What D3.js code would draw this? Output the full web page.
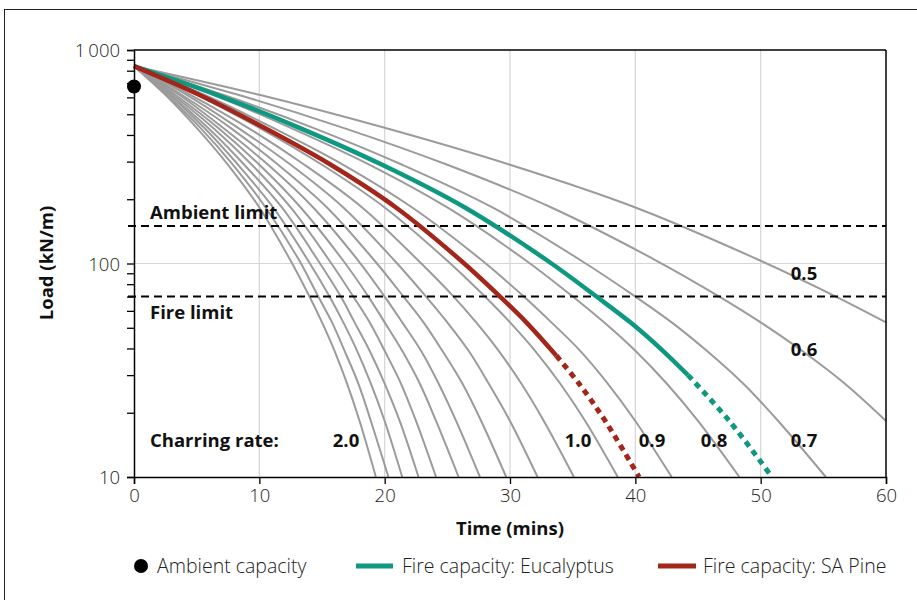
<!DOCTYPE html>
<html>
<head>
<meta charset="utf-8">
<script src="https://cdn.jsdelivr.net/npm/d3@7"></script>
<style>
  body { margin: 0; background: #fff; }
  svg { font-family: "Open Sans", "Noto Sans", sans-serif; }
</style>
</head>
<body>
<svg id="chart" width="917" height="600"></svg>
<script>
// load levels (kN/m) at which the time of each grey curve was read
const loadLevels = [840, 617, 432, 290, 183, 103, 70, 53, 39, 27.4, 18.3, 10];

const charringRates = ['2.0', '1.9', '1.8', '1.7', '1.6', '1.5', '1.4', '1.3', '1.2', '1.1', '1.0', '0.9', '0.8', '0.7', '0.6', '0.5'];

// time (mins) of each curve at the load levels above
const curveTimes = [
  [0, 2.5, 5.0, 7.5, 10.0, 12.5, 14.0, 15.0, 16.0, 17.0, 18.0, 19.3],
  [0, 2.6, 5.3, 7.9, 10.5, 13.2, 14.7, 15.8, 16.8, 17.9, 18.9, 20.3],
  [0, 2.8, 5.6, 8.3, 11.1, 13.9, 15.6, 16.7, 17.8, 18.9, 20.0, 21.4],
  [0, 2.9, 5.9, 8.8, 11.8, 14.7, 16.5, 17.6, 18.8, 20.0, 21.2, 22.7],
  [0, 3.1, 6.3, 9.4, 12.5, 15.6, 17.5, 18.8, 20.0, 21.3, 22.5, 24.1],
  [0, 3.3, 6.7, 10.0, 13.3, 16.7, 18.7, 20.0, 21.4, 22.8, 24.1, 25.9],
  [0, 3.6, 7.1, 10.7, 14.3, 17.9, 20.0, 21.4, 22.9, 24.3, 25.7, 27.6],
  [0, 3.8, 7.7, 11.5, 15.4, 19.2, 21.5, 23.1, 24.6, 26.2, 27.7, 29.7],
  [0, 4.2, 8.3, 12.5, 16.7, 20.8, 23.3, 25.0, 26.7, 28.3, 30.0, 32.2],
  [0, 4.5, 9.1, 13.6, 18.2, 22.7, 25.5, 27.3, 29.1, 30.9, 32.7, 35.1],
  [0, 5.0, 10.0, 15.0, 20.0, 25.0, 28.0, 30.0, 32.0, 34.0, 36.0, 38.6],
  [0, 5.6, 11.1, 16.7, 22.2, 27.8, 31.1, 33.3, 35.6, 37.8, 40.0, 42.9],
  [0, 6.3, 12.5, 18.8, 25.0, 31.3, 35.0, 37.5, 40.0, 42.5, 45.0, 48.3],
  [0, 7.1, 14.3, 21.4, 28.6, 35.7, 40.0, 42.9, 45.7, 48.6, 51.4, 55.2],
  [0, 8.3, 16.7, 25.0, 33.3, 41.7, 46.7, 50.0, 53.3, 56.7, 60.0],
  [0, 10.0, 20.0, 30.0, 40.0, 50.0, 56.0, 60.0]
];

// fire capacity curves, solid part then dotted continuation
const eucTimes = [0, 6.6, 13.2, 19.8, 26.4, 33.0, 36.9, 39.6, 42.2, 44.2];
const eucLoads = [840, 617, 432, 290, 183, 103, 70, 53, 39, 30];
const eucDotTimes = [44.2, 47.5, 50.9];
const eucDotLoads = [30, 18.3, 10];

const pineTimes = [0, 5.2, 10.4, 15.7, 20.9, 26.1, 29.2, 31.3, 33.7];
const pineLoads = [840, 617, 432, 290, 183, 103, 70, 53, 37];
const pineDotTimes = [33.7, 35.5, 37.6, 40.3];
const pineDotLoads = [37, 27.4, 18.3, 10];

const ambientCapacity = [0, 675];
const ambientLimit = 150;
const fireLimit = 70;

const xTicks = [0, 10, 20, 30, 40, 50, 60];
const yMajor = [10, 100, 1000];
const yMinor = [20, 30, 40, 50, 60, 70, 80, 90, 200, 300, 400, 500, 600, 700, 800, 900];

const TEAL = '#0f9880';
const RED = '#a3261b';
const GREY = '#9b9b9b';

const svg = d3.select('#chart');

const x = d3.scaleLinear().domain([0, 60]).range([134, 886]);
const y = d3.scaleLog().domain([10, 1000]).range([477, 50]);

// outer frame
svg.append('rect')
  .attr('x', 4.5).attr('y', 9.5)
  .attr('width', 940).attr('height', 620)
  .attr('fill', 'none').attr('stroke', '#222').attr('stroke-width', 1);

// grid
svg.append('g').selectAll('line')
  .data([10, 20, 30, 40, 50])
  .enter().append('line')
  .attr('x1', d => x(d)).attr('x2', d => x(d))
  .attr('y1', y(1000)).attr('y2', y(10))
  .attr('stroke', '#d6d6d6').attr('stroke-width', 1.2);

svg.append('line')
  .attr('x1', x(0)).attr('x2', x(60))
  .attr('y1', y(100)).attr('y2', y(100))
  .attr('stroke', '#d6d6d6').attr('stroke-width', 1.2);

const line = d3.line()
  .x(d => x(d[0]))
  .y(d => y(d[1]))
  .curve(d3.curveCatmullRom.alpha(0.5));

const zip = (ts, ls) => ts.map((t, i) => [t, ls[i]]);

// grey charring-rate curves
svg.append('g').selectAll('path')
  .data(curveTimes)
  .enter().append('path')
  .attr('d', ts => line(zip(ts, loadLevels)))
  .attr('fill', 'none')
  .attr('stroke', GREY)
  .attr('stroke-width', 2);

// limit lines
[ambientLimit, fireLimit].forEach(v => {
  svg.append('line')
    .attr('x1', 128).attr('x2', x(60))
    .attr('y1', y(v)).attr('y2', y(v))
    .attr('stroke', '#000').attr('stroke-width', 2)
    .attr('stroke-dasharray', '8,5');
});

// fire capacity curves
function firePath(ts, ls, color, dotted) {
  svg.append('path')
    .attr('d', line(zip(ts, ls)))
    .attr('fill', 'none')
    .attr('stroke', color)
    .attr('stroke-width', dotted ? 5 : 4.5)
    .attr('stroke-dasharray', dotted ? '6,5' : null);
}
firePath(eucTimes, eucLoads, TEAL, false);
firePath(eucDotTimes, eucDotLoads, TEAL, true);
firePath(pineTimes, pineLoads, RED, false);
firePath(pineDotTimes, pineDotLoads, RED, true);

// plot frame top / right
svg.append('line')
  .attr('x1', x(0)).attr('x2', x(60)).attr('y1', y(1000)).attr('y2', y(1000))
  .attr('stroke', '#000').attr('stroke-width', 1.5);
svg.append('line')
  .attr('x1', x(60)).attr('x2', x(60)).attr('y1', y(1000)).attr('y2', y(10))
  .attr('stroke', '#000').attr('stroke-width', 1.5);

// axes
const fmtY = d => d === 1000 ? '1\u2009000' : String(d);
const yAxis = svg.append('g')
  .attr('transform', `translate(${x(0)},0)`)
  .call(d3.axisLeft(y).tickValues(yMajor.concat(yMinor)).tickSize(7)
    .tickFormat(d => yMajor.includes(d) ? fmtY(d) : ''));

const xAxis = svg.append('g')
  .attr('transform', `translate(0,${y(10)})`)
  .call(d3.axisBottom(x).tickValues(xTicks).tickSize(7).tickFormat(d3.format('d')));

[xAxis, yAxis].forEach(a => {
  a.select('.domain').attr('stroke', '#000').attr('stroke-width', 1.5);
  a.selectAll('.tick line').attr('stroke', '#000').attr('stroke-width', 1.3);
  a.selectAll('.tick text')
    .attr('fill', '#222')
    .style('font-size', '18.5px')
    .style('font-weight', 300)
    .style('font-family', '"Open Sans", sans-serif');
});
yAxis.selectAll('.tick text').attr('x', -14).attr('dy', '0.36em');
xAxis.selectAll('.tick text').attr('y', 12);

// ambient capacity point
svg.append('circle')
  .attr('cx', x(ambientCapacity[0])).attr('cy', y(ambientCapacity[1]))
  .attr('r', 7).attr('fill', '#000');

// annotation labels
const bold = (t, px, py, anchor) => svg.append('text')
  .attr('x', px).attr('y', py)
  .attr('text-anchor', anchor || 'start')
  .style('font-size', '18.5px').style('font-weight', 700)
  .attr('fill', '#111')
  .text(t);

bold('Ambient limit', 150, 219);
bold('Fire limit', 150, 319);
bold('Charring rate:', 150, 447);
bold('2.0', 346, 447, 'middle');
bold('1.0', 578, 447, 'middle');
bold('0.9', 652, 447, 'middle');
bold('0.8', 714, 447, 'middle');
bold('0.7', 804, 447, 'middle');
bold('0.6', 804, 356, 'middle');
bold('0.5', 804, 280, 'middle');

// axis titles
bold('Time (mins)', 510, 535, 'middle');
svg.append('text')
  .attr('transform', 'translate(53,263) rotate(-90)')
  .attr('text-anchor', 'middle')
  .style('font-size', '18.5px').style('font-weight', 700)
  .attr('fill', '#111')
  .text('Load (kN/m)');

// legend
const legend = svg.append('g').style('font-size', '19.5px').style('font-weight', 300);
legend.append('circle').attr('cx', 141).attr('cy', 566).attr('r', 7).attr('fill', '#000');
legend.append('text').attr('x', 157).attr('y', 573).attr('fill', '#222').text('Ambient capacity');
legend.append('line').attr('x1', 356).attr('x2', 393).attr('y1', 566).attr('y2', 566)
  .attr('stroke', TEAL).attr('stroke-width', 5);
legend.append('text').attr('x', 402).attr('y', 573).attr('fill', '#222').text('Fire capacity: Eucalyptus');
legend.append('line').attr('x1', 658).attr('x2', 696).attr('y1', 566).attr('y2', 566)
  .attr('stroke', RED).attr('stroke-width', 5);
legend.append('text').attr('x', 703).attr('y', 573).attr('fill', '#222').text('Fire capacity: SA Pine');
</script>
</body>
</html>
